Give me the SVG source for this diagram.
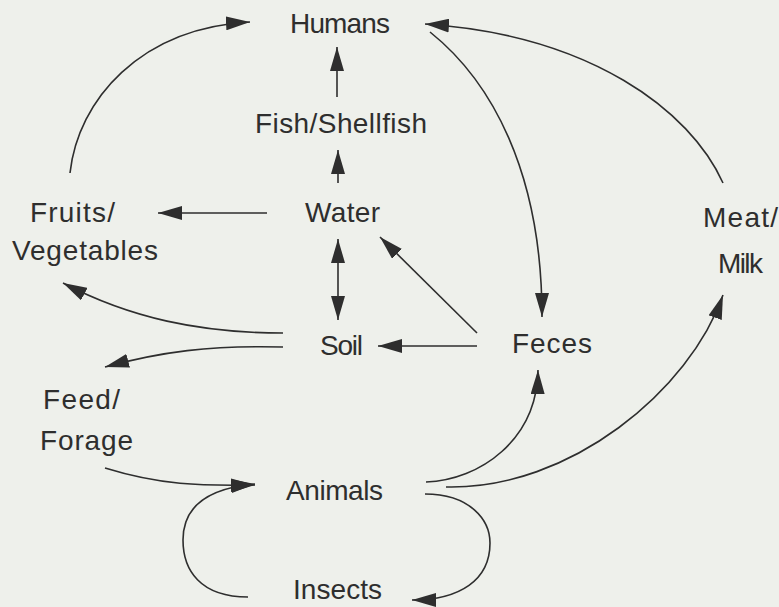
<svg xmlns="http://www.w3.org/2000/svg" width="779" height="607" viewBox="0 0 779 607">
  <style>
    text { font-family: "Liberation Sans", Arial, Helvetica, sans-serif; font-size: 28px; fill: #2e2e2e; }
    .c { fill: none; stroke: #2e2e2e; stroke-width: 1.6; }
    .a { marker-end: url(#ah); }
  </style>
  <defs>
    <marker id="ah" markerUnits="userSpaceOnUse" markerWidth="25" markerHeight="14" refX="24" refY="7" orient="auto-start-reverse">
      <path d="M0,0 L24,7 L0,14 Z" fill="#2e2e2e"/>
    </marker>
  </defs>
  <rect x="0" y="0" width="779" height="607" fill="#eef0eb"/>

  <g id="connectors">
    <path class="c a" d="M70,173 C78,100 140,28 250,22"/>
    <path class="c a" d="M723,183 C690,110 590,35 425,24"/>
    <path class="c a" d="M430,32 C490,80 542,170 542,317"/>
    <path class="c a" d="M337,97 L337,47"/>
    <path class="c a" d="M338,183 L338,150"/>
    <path class="c a" d="M267,213 L158,213"/>
    <path class="c a" d="M338,239 L338,320" marker-start="url(#ah)"/>
    <path class="c a" d="M477,333 L380,237"/>
    <path class="c a" d="M477,346 L378,346"/>
    <path class="c a" d="M283,333 C200,333 130,318 63,283"/>
    <path class="c a" d="M283,347 C210,345 160,352 105,367"/>
    <path class="c a" d="M105,468 C160,485 200,486 255,485"/>
    <path class="c a" d="M248,597 C200,597 183,570 183,540 C183,505 210,488 255,484"/>
    <path class="c a" d="M425,494 C470,494 490,520 490,543 C490,580 460,600 412,600"/>
    <path class="c a" d="M426,482 C480,480 537,440 538,370"/>
    <path class="c a" d="M446,487 C570,490 690,390 723,295"/>
  </g>

  <g id="humans"><text x="290" y="33" textLength="100">Humans</text></g>
  <g id="fish"><text x="255" y="133" textLength="172">Fish/Shellfish</text></g>
  <g id="water"><text x="305" y="222" textLength="75">Water</text></g>
  <g id="fruits"><text x="30" y="222" textLength="85">Fruits/</text><text x="12" y="260" textLength="146">Vegetables</text></g>
  <g id="soil"><text x="320" y="355" textLength="43">Soil</text></g>
  <g id="feces"><text x="512" y="353" textLength="80">Feces</text></g>
  <g id="meat"><text x="703" y="227" textLength="75">Meat/</text><text x="718" y="273" textLength="45">Milk</text></g>
  <g id="feed"><text x="43" y="409" textLength="77">Feed/</text><text x="40" y="450" textLength="93">Forage</text></g>
  <g id="animals"><text x="286" y="500" textLength="97">Animals</text></g>
  <g id="insects"><text x="293" y="599" textLength="89">Insects</text></g>
</svg>
